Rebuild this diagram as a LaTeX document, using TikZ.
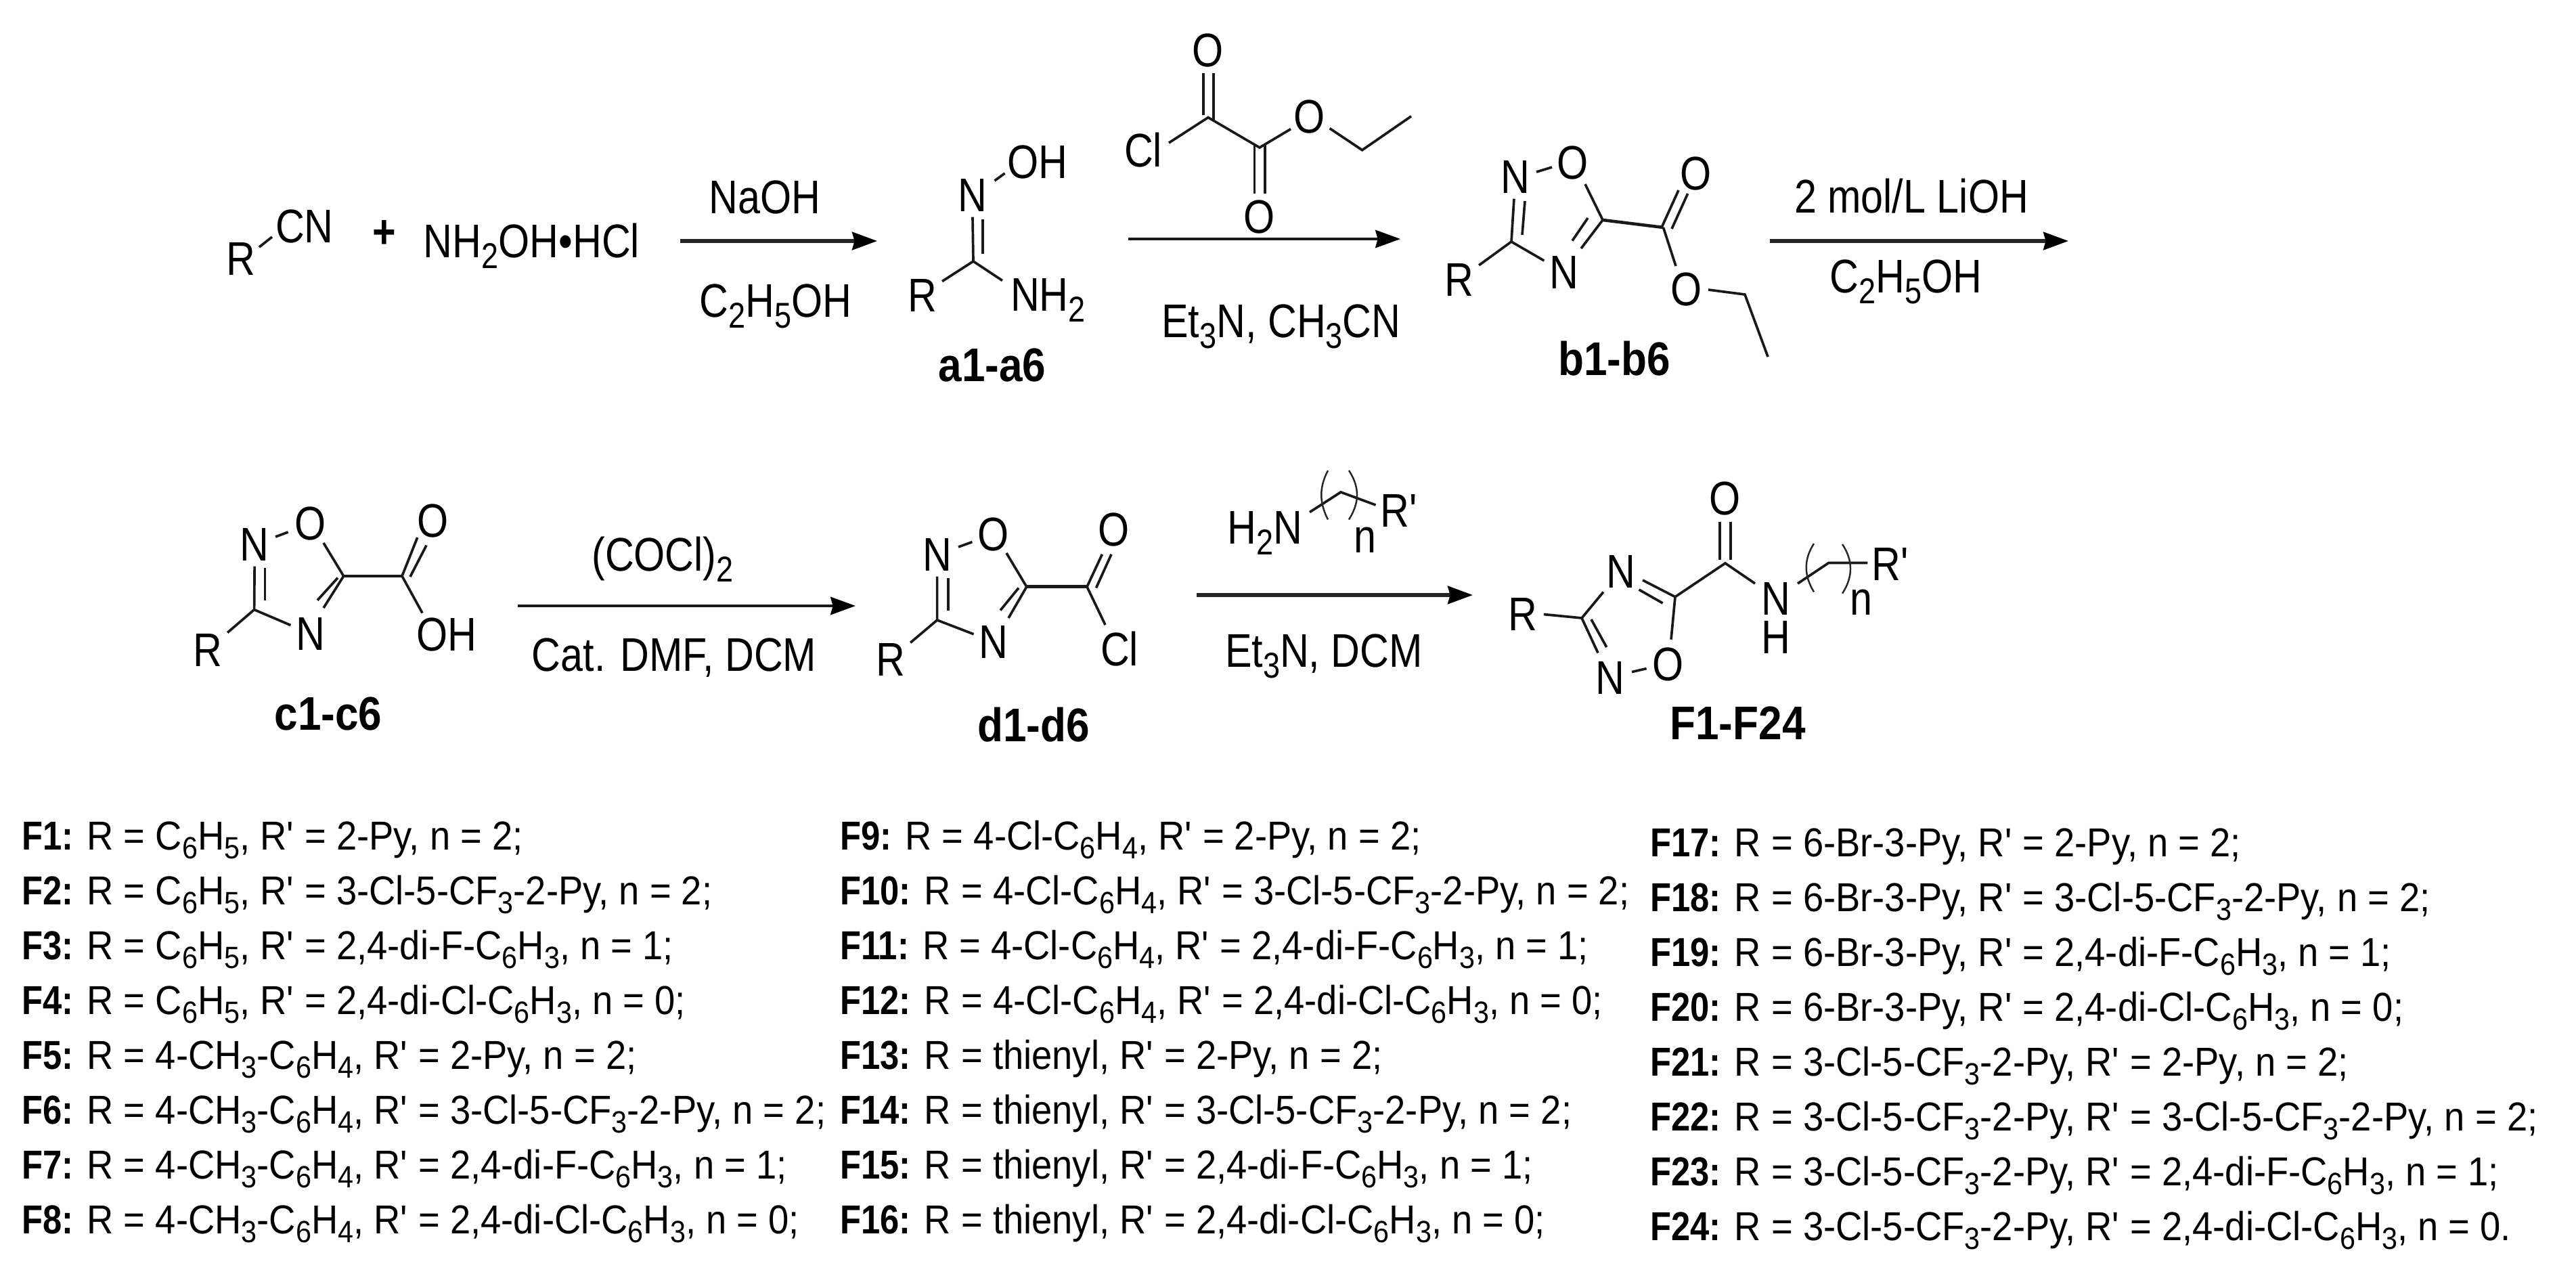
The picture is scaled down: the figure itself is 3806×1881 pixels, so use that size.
\documentclass[tikz,border=0pt]{standalone}
\usepackage{fontspec}
\setmainfont[FakeStretch=0.85]{Liberation Sans}
\newfontfamily\listfam[FakeStretch=0.91]{Liberation Sans}
\newfontfamily\tagfam[FakeStretch=0.89]{Liberation Sans}
\newfontfamily\ltfam[FakeStretch=0.85]{Liberation Sans}
\usetikzlibrary{arrows.meta}
\newcommand\sbs[1]{\raisebox{-0.23em}{\scalebox{0.76}{#1}}}
\newcommand\Rp{R\textquotesingle}
\newcommand\chemfont{\fontsize{39.7}{48}\selectfont}
\newcommand\listfont{\fontsize{34}{41}\selectfont\listfam}
\newcommand\lt[1]{{\ltfam\bfseries #1}}
\tikzset{
  bond/.style={line width=2.1pt,black!90},
  brk/.style={line width=1.4pt,black!85},
  rxn/.style={line width=3pt,black!85,-{Stealth[length=21pt,width=15pt,inset=2pt,black]}},
  rxnthin/.style={line width=2.2pt,black!90,-{Stealth[length=21pt,width=15pt,inset=2pt,black]}},
  atom/.style={font=\chemfont,inner sep=4.2pt,text height=28.35pt,text depth=0pt},
  reag/.style={font=\chemfont,inner sep=0pt,anchor=base},
  tag/.style={font=\chemfont\tagfam\bfseries,inner sep=0pt,anchor=base},
  item/.style={font=\listfont,inner sep=0pt,anchor=base west},
}
\begin{document}
\begin{tikzpicture}[x=0.02cm,y=-0.02cm]
\useasboundingbox[fill=white] (0,0) rectangle (3806,1881);

% ---- R-CN + NH2OH.HCl
\node[atom] (r0) at (356,382) {R};
\node[atom] (cn) at (450,334) {CN};
\coordinate (r0b) at (383,365); \coordinate (cnb) at (402,350);
\draw[bond] (r0b) -- (cnb);
\node[reag,font=\chemfont\bfseries] (plus) at (567.5,366) {+};
\node[atom] (hx) at (785.5,356) {NH\sbs{2}OH•HCl};

% ---- arrow 1
\coordinate (a1s) at (1005,356); \coordinate (a1e) at (1296,356);
\draw[rxn] (a1s) -- (a1e);
\node[reag] (naoh) at (1130,315) {NaOH};
\node[reag] (etoh1) at (1146,468) {C\sbs{2}H\sbs{5}OH};

% ---- a1-a6
\node[atom] (an) at (1436.5,288) {N};
\node[atom] (aoh) at (1533,238.5) {OH};
\node[atom] (ar) at (1363,436) {R};
\node[atom] (anh) at (1548.5,435) {NH\sbs{2}};
\coordinate (ac) at (1438,386);
\coordinate (anb) at (1469.5,267); \coordinate (aob) at (1484.6,256);
\coordinate (adb1) at (1452,323.5); \coordinate (adb2) at (1452,375);
\coordinate (anhb) at (1481,414.5); \coordinate (arb) at (1392,415.6);
\draw[bond] (anb) -- (aob);
\draw[bond] (an) -- (ac);
\draw[bond] (adb1) -- (adb2);
\draw[bond] (ac) -- (arb);
\draw[bond] (ac) -- (anhb);
\node[tag] (ta) at (1466,563) {a1-a6};

% ---- ethyl chlorooxoacetate
\node[atom] (oo1) at (1785,73.5) {O};
\node[atom] (ocl) at (1689,222) {Cl};
\node[atom] (oo2) at (1861,320) {O};
\node[atom] (oo3) at (1935,172) {O};
\coordinate (oc1) at (1785,173.5);
\coordinate (oc2) at (1861,218);
\coordinate (och2) at (2012.6,221.7);
\coordinate (och3) at (2085,171.7);
\coordinate (od1a) at (1778,107.5); \coordinate (od1b) at (1778,170);
\coordinate (od1c) at (1793,107.5); \coordinate (od1d) at (1793,178);
\coordinate (od2a) at (1853.5,213); \coordinate (od2b) at (1853.5,286);
\coordinate (od2c) at (1869,213); \coordinate (od2d) at (1869,286);
\coordinate (oclb) at (1727,211); \coordinate (oo3b) at (1907,190.6);
\coordinate (oo3c) at (1964.5,189.6);
\draw[bond] (od1a) -- (od1b);
\draw[bond] (od1c) -- (od1d);
\draw[bond] (od2a) -- (od2b);
\draw[bond] (od2c) -- (od2d);
\draw[bond] (oclb) -- (oc1) -- (oc2) -- (oo3b);
\draw[bond] (oo3c) -- (och2) -- (och3);

% ---- arrow 2
\coordinate (a2s) at (1667,353); \coordinate (a2e) at (2069,353);
\draw[rxnthin] (a2s) -- (a2e);
\node[reag] (et1) at (1893,498) {Et\sbs{3}N, CH\sbs{3}CN};

% ---- b1-b6
\node[atom] (bn1) at (2239,261) {N};
\node[atom] (bo1) at (2323.4,240) {O};
\node[atom] (bn2) at (2310.5,402) {N};
\node[atom] (br) at (2156,413) {R};
\node[atom] (bo2) at (2505.6,255.6) {O};
\node[atom] (bo3) at (2492,427) {O};
\coordinate (bc3) at (2233,357);
\coordinate (bc5) at (2368,325);
\coordinate (bc6) at (2457.5,336);
\coordinate (bch2) at (2578,435);
\coordinate (bch3) at (2612,527);
\coordinate (bd1a) at (2253,297); \coordinate (bd1b) at (2249,347);
\coordinate (bd2a) at (2346,322); \coordinate (bd2b) at (2323,355.6);
\coordinate (bd3a) at (2455,336); \coordinate (bd3b) at (2480,281);
\coordinate (bd3c) at (2470,338); \coordinate (bd3d) at (2493.6,286);
\coordinate (bo5) at (2342,272);
\coordinate (bn5) at (2336,367);
\coordinate (bo3c) at (2524,428);
\coordinate (bo3d) at (2476,393);
\coordinate (bnob1) at (2270,254); \coordinate (bnob2) at (2293,247);
\draw[bond] (bnob1) -- (bnob2);
\draw[bond] (bn1) -- (bc3) -- (br);
\draw[bond] (bc3) -- (bn2);
\draw[bond] (bd1a) -- (bd1b);
\draw[bond] (bo5) -- (bc5) -- (bn5);
\draw[bond] (bd2a) -- (bd2b);
\draw[bond,line width=2.6pt] (bc5) -- (bc6);
\draw[bond] (bd3a) -- (bd3b);
\draw[bond] (bd3c) -- (bd3d);
\draw[bond] (bc6) -- (bo3d);
\draw[bond] (bo3c) -- (bch2) -- (bch3);
\node[tag] (tb) at (2385,554) {b1-b6};

% ---- arrow 3
\coordinate (a3s) at (2615,356); \coordinate (a3e) at (3056,356);
\draw[rxn] (a3s) -- (a3e);
\node[reag] (lioh) at (2824,314.5) {2 mol/L LiOH};
\node[reag] (etoh2) at (2816,432) {C\sbs{2}H\sbs{5}OH};

% ---- c1-c6
\node[atom] (cn1) at (376.4,804) {N};
\node[atom] (co1) at (458.6,773) {O};
\node[atom] (cn2) at (458.6,936) {N};
\node[atom] (cr) at (307,959.5) {R};
\node[atom] (co2) at (640,768.5) {O};
\node[atom] (coh) at (659.5,937) {OH};
\coordinate (cc3) at (375.6,900.6);
\coordinate (cc5) at (507.7,851);
\coordinate (cc6) at (594,851);
\coordinate (cd1a) at (391.6,838.7); \coordinate (cd1b) at (391.6,886.7);
\coordinate (cd2a) at (499,853.6); \coordinate (cd2b) at (469,886.7);
\coordinate (cd3a) at (616.7,794); \coordinate (cd3b) at (606,852); \coordinate (cd3c) at (630,805.6);
\coordinate (cob1) at (407,793); \coordinate (cob2) at (425.6,786);
\coordinate (cbo) at (478,802); \coordinate (cbn) at (478,898);
\coordinate (cboh) at (624,905.5);
\draw[bond] (cob1) -- (cob2);
\draw[bond] (cn1) -- (cc3) -- (cr);
\draw[bond] (cc3) -- (cn2);
\draw[bond] (cd1a) -- (cd1b);
\draw[bond] (cbo) -- (cc5) -- (cbn);
\draw[bond] (cd2a) -- (cd2b);
\draw[bond,line width=2.8pt] (cc5) -- (cc6);
\draw[bond] (cc6) -- (cd3a);
\draw[bond] (cd3b) -- (cd3c);
\draw[bond] (cc6) -- (cboh);
\node[tag] (tc) at (485,1078.6) {c1-c6};

% ---- arrow 4
\coordinate (a4s) at (765,895); \coordinate (a4e) at (1264,895);
\draw[rxnthin] (a4s) -- (a4e);
\node[reag] (cocl) at (979,843.6) {(COCl)\sbs{2}};
\node[reag] (dmf) at (996,991) {Cat. DMF, DCM};

% ---- d1-d6
\node[atom] (dn1) at (1384.6,819) {N};
\node[atom] (do1) at (1467.7,788.4) {O};
\node[atom] (dn2) at (1467.7,948) {N};
\node[atom] (dr) at (1316,974) {R};
\node[atom] (do2) at (1646,782) {O};
\node[atom] (dcl) at (1654,958.6) {Cl};
\coordinate (dc3) at (1384.6,916);
\coordinate (dc5) at (1516.8,866.8);
\coordinate (dc6) at (1606,866.8);
\coordinate (dd1a) at (1400.7,853.6); \coordinate (dd1b) at (1400.7,901.6);
\coordinate (dd2a) at (1505,868.5); \coordinate (dd2b) at (1478,901.6);
\coordinate (dd3a) at (1628.4,818.8); \coordinate (dd3b) at (1619.5,868.5); \coordinate (dd3c) at (1642,818.8);
\coordinate (dob1) at (1416,808); \coordinate (dob2) at (1436.4,800.6);
\coordinate (dbo) at (1487,817); \coordinate (dbn) at (1490,913);
\coordinate (dbcl) at (1633,923);
\draw[bond] (dob1) -- (dob2);
\draw[bond] (dn1) -- (dc3) -- (dr);
\draw[bond] (dc3) -- (dn2);
\draw[bond] (dd1a) -- (dd1b);
\draw[bond] (dbo) -- (dc5) -- (dbn);
\draw[bond] (dd2a) -- (dd2b);
\draw[bond,line width=2.8pt] (dc5) -- (dc6);
\draw[bond] (dc6) -- (dd3a);
\draw[bond] (dd3b) -- (dd3c);
\draw[bond] (dc6) -- (dbcl);
\node[tag] (td) at (1527,1095) {d1-d6};

% ---- amine reagent and arrow 5
\coordinate (a5s) at (1768,879); \coordinate (a5e) at (2176,879);
\draw[rxn] (a5s) -- (a5e);
\node[reag] (amine) at (1869,803) {H\sbs{2}N};
\node[reag] (rp1) at (2068,778) {\Rp};
\node[reag] (n1) at (2017,816.5) {n};
\coordinate (am1) at (1935,756.6); \coordinate (am2) at (1981,727); \coordinate (am3) at (2032.6,746);
\draw[bond] (am1) -- (am2) -- (am3);
\coordinate (pa1) at (1962,695); \coordinate (pa2) at (1962,767.5);
\coordinate (pa1c) at (1949,720); \coordinate (pa2c) at (1949,742);
\coordinate (pb1) at (1993,695); \coordinate (pb2) at (1993,767.5);
\coordinate (pb1c) at (2009,720); \coordinate (pb2c) at (2009,742);
\draw[brk] (pa1) .. controls (pa1c) and (pa2c) .. (pa2);
\draw[brk] (pb1) .. controls (pb1c) and (pb2c) .. (pb2);
\node[reag] (et2) at (1956,985) {Et\sbs{3}N, DCM};

% ---- F1-F24
\node[atom] (fr) at (2249.4,906.5) {R};
\node[atom] (fn1) at (2395,843.6) {N};
\node[atom] (fn2) at (2379,1001) {N};
\node[atom] (fo1) at (2465,981) {O};
\node[atom] (fo2) at (2549,736) {O};
\node[atom] (fnh) at (2624,883.4) {N};
\node[atom] (fh) at (2624,941) {H};
\node[reag] (rp2) at (2794,857) {\Rp};
\node[reag] (n2) at (2750,908) {n};
\coordinate (fc3) at (2337,913);
\coordinate (fc5) at (2475,881.7);
\coordinate (fc6) at (2549,832);
\coordinate (fch2) at (2702,831.4);
\coordinate (frb) at (2281,907.5);
\coordinate (fn1b) at (2369,874.4);
\coordinate (fn2b) at (2361,964.5);
\coordinate (fd1a) at (2351,915); \coordinate (fd1b) at (2373.7,956);
\coordinate (fnob1) at (2411,992.6); \coordinate (fnob2) at (2432.6,987.6);
\coordinate (fo1b) at (2469,944.6);
\coordinate (fn1c) at (2427,857);
\coordinate (fd2a) at (2456.6,891); \coordinate (fd2b) at (2421.5,871);
\coordinate (fd3a) at (2541,771); \coordinate (fd3b) at (2541,827);
\coordinate (fd3c) at (2557,771); \coordinate (fd3d) at (2557,827);
\coordinate (fnb1) at (2593,862);
\coordinate (fnb2) at (2656,862);
\coordinate (frp) at (2759.4,831.4);
\draw[bond] (frb) -- (fc3) -- (fn1b);
\draw[bond] (fc3) -- (fn2b);
\draw[bond] (fd1a) -- (fd1b);
\draw[bond] (fnob1) -- (fnob2);
\draw[bond] (fo1b) -- (fc5) -- (fn1c);
\draw[bond] (fd2a) -- (fd2b);
\draw[bond] (fc5) -- (fc6) -- (fnb1);
\draw[bond] (fd3a) -- (fd3b);
\draw[bond] (fd3c) -- (fd3d);
\draw[bond] (fnb2) -- (fch2) -- (frp);
\coordinate (qa1) at (2680,803); \coordinate (qa2) at (2680,874.4);
\coordinate (qa1c) at (2665,826); \coordinate (qa2c) at (2665,850);
\coordinate (qb1) at (2722,804); \coordinate (qb2) at (2722,876.7);
\coordinate (qb1c) at (2738,828); \coordinate (qb2c) at (2738,852);
\draw[brk] (qa1) .. controls (qa1c) and (qa2c) .. (qa2);
\draw[brk] (qb1) .. controls (qb1c) and (qb2c) .. (qb2);
\node[tag] (tf) at (2567.5,1092) {F1-F24};

% ---- compound list, column 1
\node[item] (f1) at (32,1255) {\lt{F1:} R = C\sbs{6}H\sbs{5}, \Rp{} = 2-Py, n = 2;};
\node[item] (f2) at (32,1336) {\lt{F2:} R = C\sbs{6}H\sbs{5}, \Rp{} = 3-Cl-5-CF\sbs{3}-2-Py, n = 2;};
\node[item] (f3) at (32,1417) {\lt{F3:} R = C\sbs{6}H\sbs{5}, \Rp{} = 2,4-di-F-C\sbs{6}H\sbs{3}, n = 1;};
\node[item] (f4) at (32,1498) {\lt{F4:} R = C\sbs{6}H\sbs{5}, \Rp{} = 2,4-di-Cl-C\sbs{6}H\sbs{3}, n = 0;};
\node[item] (f5) at (32,1579) {\lt{F5:} R = 4-CH\sbs{3}-C\sbs{6}H\sbs{4}, \Rp{} = 2-Py, n = 2;};
\node[item] (f6) at (32,1660) {\lt{F6:} R = 4-CH\sbs{3}-C\sbs{6}H\sbs{4}, \Rp{} = 3-Cl-5-CF\sbs{3}-2-Py, n = 2;};
\node[item] (f7) at (32,1741) {\lt{F7:} R = 4-CH\sbs{3}-C\sbs{6}H\sbs{4}, \Rp{} = 2,4-di-F-C\sbs{6}H\sbs{3}, n = 1;};
\node[item] (f8) at (32,1822) {\lt{F8:} R = 4-CH\sbs{3}-C\sbs{6}H\sbs{4}, \Rp{} = 2,4-di-Cl-C\sbs{6}H\sbs{3}, n = 0;};
% column 2
\node[item] (f9) at (1241,1255) {\lt{F9:} R = 4-Cl-C\sbs{6}H\sbs{4}, \Rp{} = 2-Py, n = 2;};
\node[item] (f10) at (1241,1336) {\lt{F10:} R = 4-Cl-C\sbs{6}H\sbs{4}, \Rp{} = 3-Cl-5-CF\sbs{3}-2-Py, n = 2;};
\node[item] (f11) at (1241,1417) {\lt{F11:} R = 4-Cl-C\sbs{6}H\sbs{4}, \Rp{} = 2,4-di-F-C\sbs{6}H\sbs{3}, n = 1;};
\node[item] (f12) at (1241,1498) {\lt{F12:} R = 4-Cl-C\sbs{6}H\sbs{4}, \Rp{} = 2,4-di-Cl-C\sbs{6}H\sbs{3}, n = 0;};
\node[item] (f13) at (1241,1579) {\lt{F13:} R = thienyl, \Rp{} = 2-Py, n = 2;};
\node[item] (f14) at (1241,1660) {\lt{F14:} R = thienyl, \Rp{} = 3-Cl-5-CF\sbs{3}-2-Py, n = 2;};
\node[item] (f15) at (1241,1741) {\lt{F15:} R = thienyl, \Rp{} = 2,4-di-F-C\sbs{6}H\sbs{3}, n = 1;};
\node[item] (f16) at (1241,1822) {\lt{F16:} R = thienyl, \Rp{} = 2,4-di-Cl-C\sbs{6}H\sbs{3}, n = 0;};
% column 3
\node[item] (f17) at (2438,1265) {\lt{F17:} R = 6-Br-3-Py, \Rp{} = 2-Py, n = 2;};
\node[item] (f18) at (2438,1346) {\lt{F18:} R = 6-Br-3-Py, \Rp{} = 3-Cl-5-CF\sbs{3}-2-Py, n = 2;};
\node[item] (f19) at (2438,1427) {\lt{F19:} R = 6-Br-3-Py, \Rp{} = 2,4-di-F-C\sbs{6}H\sbs{3}, n = 1;};
\node[item] (f20) at (2438,1508) {\lt{F20:} R = 6-Br-3-Py, \Rp{} = 2,4-di-Cl-C\sbs{6}H\sbs{3}, n = 0;};
\node[item] (f21) at (2438,1589) {\lt{F21:} R = 3-Cl-5-CF\sbs{3}-2-Py, \Rp{} = 2-Py, n = 2;};
\node[item] (f22) at (2438,1670) {\lt{F22:} R = 3-Cl-5-CF\sbs{3}-2-Py, \Rp{} = 3-Cl-5-CF\sbs{3}-2-Py, n = 2;};
\node[item] (f23) at (2438,1751) {\lt{F23:} R = 3-Cl-5-CF\sbs{3}-2-Py, \Rp{} = 2,4-di-F-C\sbs{6}H\sbs{3}, n = 1;};
\node[item] (f24) at (2438,1832) {\lt{F24:} R = 3-Cl-5-CF\sbs{3}-2-Py, \Rp{} = 2,4-di-Cl-C\sbs{6}H\sbs{3}, n = 0.};
\end{tikzpicture}
\end{document}
